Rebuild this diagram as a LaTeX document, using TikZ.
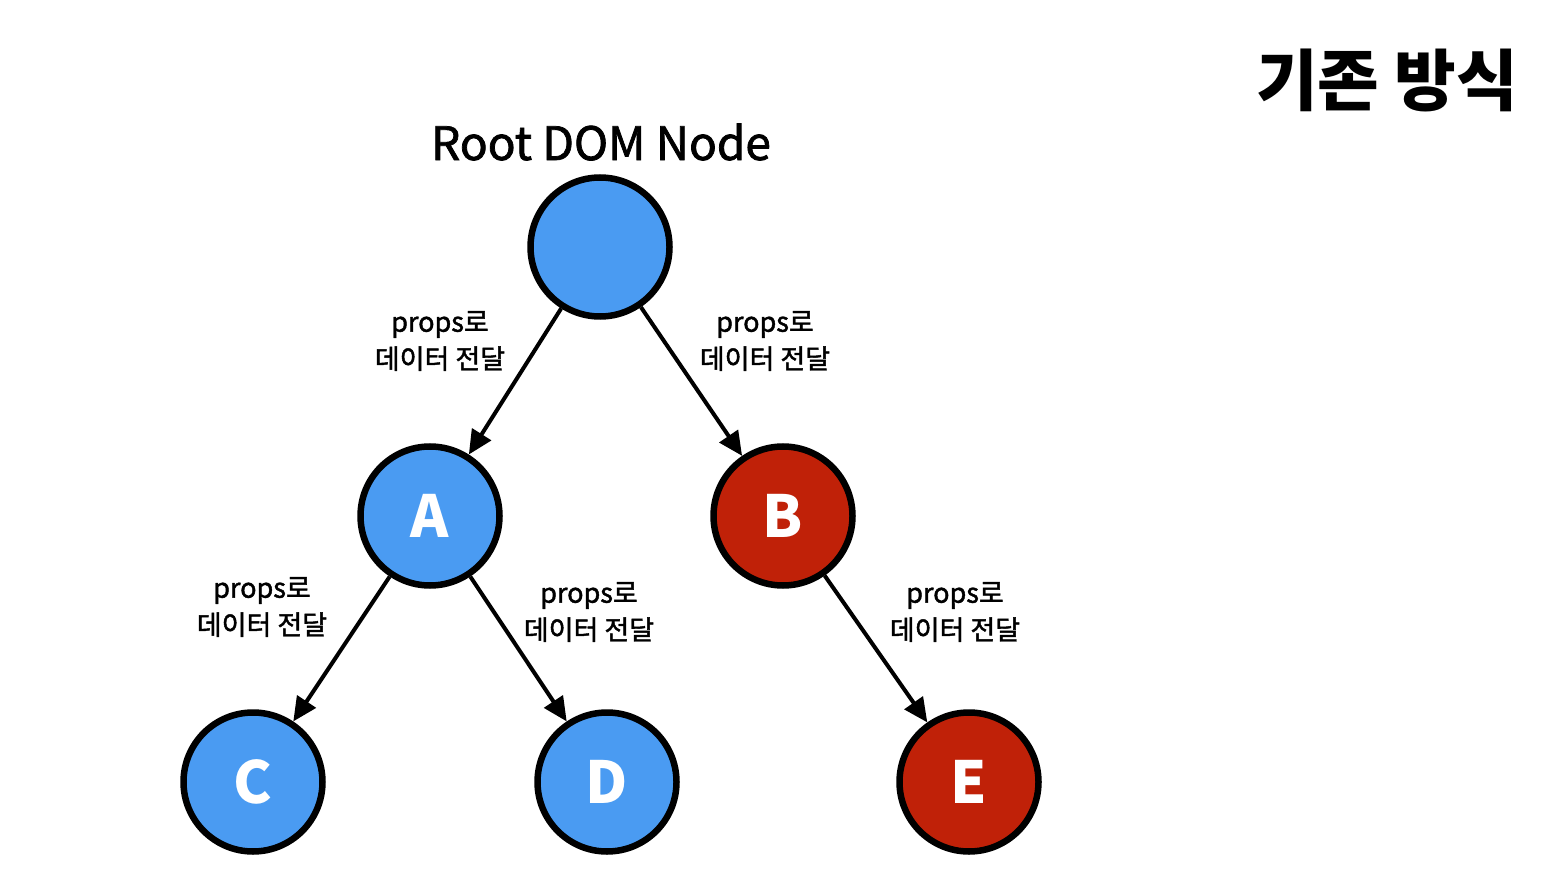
\documentclass[tikz,border=0pt]{standalone}
\usepackage{fontspec}
\setmainfont{Noto Sans CJK KR}
\newfontfamily\krmed{Noto Sans CJK KR}[FakeBold=1.6]
\usetikzlibrary{arrows.meta}
\definecolor{nblue}{HTML}{4A9BF2}
\definecolor{nred}{HTML}{C02108}
\tikzset{
  tnode/.style={circle,draw=black,line width=6.5pt,minimum size=139pt,inner sep=0pt,text=white,font=\fontsize{58}{60}\selectfont\bfseries},
  bluenode/.style={tnode,fill=nblue},
  rednode/.style={tnode,fill=nred},
  conn/.style={line width=4pt,-{Triangle[length=24pt,width=22pt]}},
  lbl/.style={align=center,font=\krmed\fontsize{27}{37}\selectfont,inner sep=0pt}
}
\begin{document}
\begin{tikzpicture}[x=1pt,y=-1pt]
\useasboundingbox (0,0) rectangle (1566,890);
\node[bluenode] (root) at (600,247) {};
\node[bluenode] (A) at (430,516) {A};
\node[rednode] (B) at (783,516) {B};
\node[bluenode] (C) at (253,782) {C};
\node[bluenode] (D) at (607,782) {D};
\node[rednode] (E) at (969,782) {E};
\node[font=\krmed\fontsize{46}{50}\selectfont,inner sep=0pt] (rt) at (601,142) {Root DOM Node};
\node[font=\fontsize{67}{70}\selectfont\bfseries,inner sep=0pt] (title) at (1387,80) {기존 방식};
\draw[conn] (root) -- (A);
\draw[conn] (root) -- (B);
\draw[conn] (A) -- (C);
\draw[conn] (A) -- (D);
\draw[conn] (B) -- (E);
\node[lbl] (l1) at (440,341) {props로\\데이터 전달};
\node[lbl] (l2) at (765,341) {props로\\데이터 전달};
\node[lbl] (l3) at (262,607) {props로\\데이터 전달};
\node[lbl] (l4) at (589,612) {props로\\데이터 전달};
\node[lbl] (l5) at (955,612) {props로\\데이터 전달};
\end{tikzpicture}
\end{document}
